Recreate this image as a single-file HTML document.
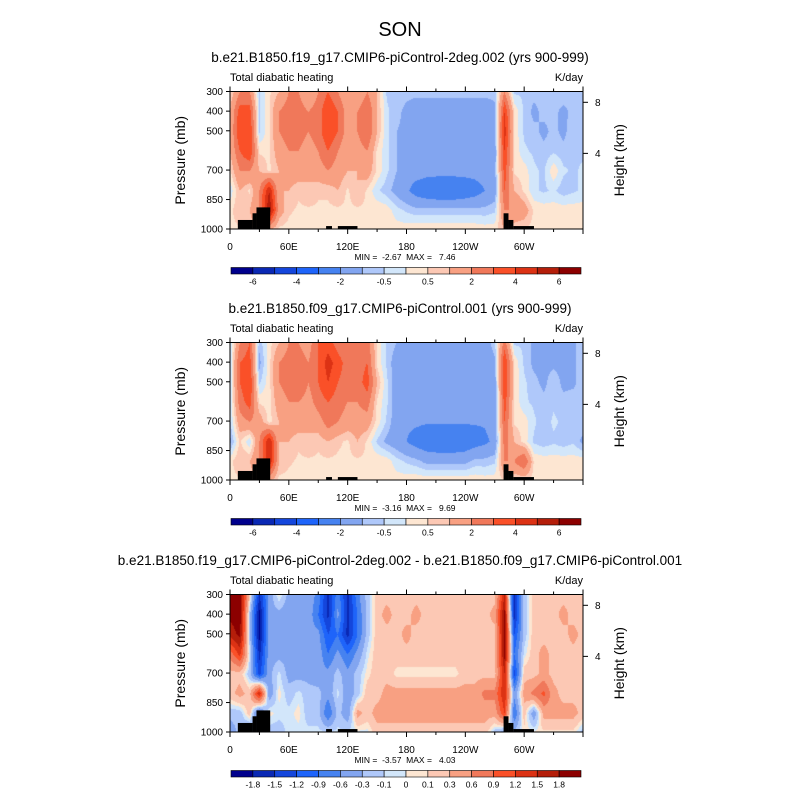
<!DOCTYPE html>
<html><head><meta charset="utf-8"><style>
body{margin:0;background:#fff;width:800px;height:800px;overflow:hidden;font-family:"Liberation Sans",Arial,sans-serif}
svg text{font-family:"Liberation Sans",Arial,sans-serif;fill:#000}
</style></head><body>
<svg id="chart" width="800" height="800" xmlns="http://www.w3.org/2000/svg">
<text x="400" y="36" font-size="20" text-anchor="middle">SON</text>
</svg>
<script>
const lons=[0,10,20,30,40,50,60,70,80,90,100,110,120,130,140,150,160,170,180,190,200,210,220,230,240,250,260,270,280,290,300,310,320,330,340,350,360];
const plevs=[300,400,500,600,700,800,900,1000];
const field1=[
[0.4,2,2,-0.6,0.4,1,2,2,1,2,3,2,1,1,2,1,-0.6,-0.6,-0.8,-0.8,-0.8,-0.8,-0.8,-0.8,-0.8,-0.8,-0.8,-0.8,2,-0.6,-0.6,-0.8,-0.6,-0.8,-0.6,-0.8,-0.6],
[1,3.5,3.5,-0.6,0.4,2,2.5,2.5,2,2.5,4,3,1.5,2,3,1,-0.4,-0.8,-1.2,-1.5,-1.5,-1.5,-1.5,-1.5,-1.5,-1.5,-1.5,-1.2,4,0.4,-0.6,-1.2,-0.8,-0.8,-1.2,-0.8,-0.6],
[1,4,4,-0.6,0.4,2,2.5,2.5,2,2.5,4,3,1.5,2,3,1,-0.4,-1,-1.2,-1.5,-1.5,-1.5,-1.5,-1.5,-1.5,-1.5,-1.5,-1.2,4.5,0.4,-0.6,-0.8,-1.2,-0.8,-1.2,-0.6,-0.6],
[1,3,4,0.4,0.4,1.5,2,2,1.5,2,3,2,1,1.5,2,0.4,-0.4,-1,-1.3,-1.5,-1.5,-1.5,-1.5,-1.5,-1.5,-1.5,-1.5,-1.5,4,0.4,-0.4,-0.6,-0.8,-0.6,-0.8,-0.6,-0.6],
[0.4,2,2,1,0.4,1,1.5,1.5,1,1.5,2,1.5,1,1,1.5,0.4,-0.4,-1,-1.5,-1.5,-1.6,-1.6,-1.6,-1.6,-1.6,-1.6,-1.5,-1.3,3.5,0.4,0.3,-0.4,-0.6,0.4,-0.4,-0.6,-0.4],
[-0.4,1,0.4,2,5,1,1,0.6,1,0.6,0.6,1,0.4,1,0.4,-0.4,-0.8,-1.3,-1.8,-2.5,-2.8,-3,-3,-3,-2.8,-2.5,-2,-1.5,3,1,0.4,-0.4,-0.6,-0.4,-0.8,-0.6,-0.4],
[0.3,1,1,2,6,1.5,0.6,0.4,0.4,0.4,0.4,0.4,0.4,0.4,0.4,0.4,0.3,-0.3,-0.6,-0.8,-0.8,-0.8,-0.8,-0.8,-0.8,-0.8,-0.8,-0.6,2,2,1.5,0.4,0.3,0.3,0.3,0.3,0.3],
[0.3,0.4,0.4,2,1,0.3,0.3,0.3,0.3,0.3,0.3,0.3,0.3,0.3,0.3,0.3,0.3,0.3,0.3,0.4,0.4,0.4,0.4,0.4,0.4,0.4,0.3,0.3,1,0.4,0.4,0.3,0.3,0.3,0.3,0.3,0.3]];
const field2=[
[-0.6,2,3,-0.8,0.3,1,2,2,1.5,3,3.5,2.5,2,2,2.5,0.4,-0.6,-1,-1.5,-1.5,-1.5,-1.5,-1.5,-1.5,-1.5,-1.5,-1.5,-0.6,2.5,-0.6,-0.6,-1.2,-1.2,-1.2,-1.2,-1.2,-0.6],
[-0.6,3,3.5,-1.2,0.3,2,2.5,2.5,2,3,4.5,3.5,2.5,2.5,3,0.4,-0.6,-1.5,-1.8,-1.8,-1.8,-1.8,-1.8,-1.8,-1.8,-1.8,-1.8,-1.2,4,0.4,-0.6,-1.2,-1.2,-1.2,-1.2,-1.2,-0.6],
[-0.6,3,4,-0.6,0.3,2,2.5,3,2,3,4,3,2.5,2.5,3.5,1,-0.4,-1.5,-1.8,-1.8,-1.8,-1.8,-1.8,-1.8,-1.8,-1.8,-1.8,-1.5,4,0.4,-0.4,-0.8,-1.2,-0.6,-1.2,-1.2,-0.6],
[-0.6,2.5,3.5,0.4,0.3,1.5,2,2,1.5,2.5,3,2.5,2,2,2.5,0.4,-0.4,-1.5,-1.8,-1.8,-1.8,-1.8,-1.8,-1.8,-1.8,-1.8,-1.8,-1.8,3.5,0.4,-0.4,-0.6,-0.8,-0.6,-0.8,-0.6,-0.6],
[-0.6,1.5,2,1.5,0.3,1,1.5,1.5,1,1.5,2.5,2,1.5,1.5,1.5,0.3,-0.6,-1.5,-1.8,-1.8,-1.9,-1.9,-1.9,-1.9,-1.9,-1.9,-1.9,-1.5,3,0.4,0.3,-0.4,-0.8,-0.4,-0.6,-0.8,-0.6],
[-1.2,0.6,-0.4,2,5,1,1,0.6,1,0.6,1,0.6,0.4,1,0.4,-0.6,-1.2,-1.5,-2,-2.5,-2.8,-3,-3,-3,-2.8,-2.5,-2.2,-1.8,2.5,1,0.3,-0.6,-0.8,-0.6,-0.8,-0.6,-1.2],
[0.3,1,1,2,5,1,0.6,0.4,0.4,0.4,0.4,0.4,0.4,0.4,0.4,0.4,0.3,-0.3,-0.6,-0.8,-1.2,-1.2,-1.2,-1.2,-1.2,-0.8,-0.8,-0.6,2,2,3,0.4,0.3,0.3,0.3,0.3,0.3],
[0.3,0.4,0.4,1.5,1,0.3,0.3,0.3,0.3,0.3,0.3,0.3,0.3,0.3,0.3,0.3,0.3,0.3,0.3,0.4,0.4,0.4,0.4,0.4,0.4,0.4,0.3,0.3,0.4,0.4,0.4,0.3,0.3,0.3,0.3,0.3,0.3]];
const field3=[
[1.9,2,0.2,-1.5,-0.5,0.05,-0.4,-0.4,-0.4,-0.7,-1.6,-0.7,-1.6,-0.7,-0.2,0.2,0.2,0.2,0.2,0.2,0.2,0.2,0.2,0.2,0.2,0.2,0.2,0.2,1.5,-1.6,-0.2,0.2,0.2,0.2,0.2,0.2,0.2],
[1.9,2,-0.2,-1.9,-0.4,-0.4,-0.5,-0.5,-0.4,-0.9,-1.6,-0.5,-1.6,-0.9,-0.2,0.2,0.4,0.2,0.2,0.4,0.2,0.2,0.2,0.2,0.2,0.2,0.2,0.4,1.9,-1.6,-0.2,0.2,0.2,0.2,0.4,0.2,0.2],
[1.6,1.9,-0.2,-1.9,-0.4,-0.5,-0.5,-0.4,-0.5,-0.5,-1.2,-0.9,-1.6,-0.9,-0.2,0.2,0.2,0.2,0.4,0.2,0.2,0.2,0.2,0.2,0.2,0.2,0.2,0.2,1.9,-1.2,-0.2,0.2,0.2,0.2,0.2,0.4,0.2],
[0.7,1.3,-0.05,-1.6,-0.4,-0.4,-0.4,-0.4,-0.4,-0.4,-0.9,-0.5,-0.9,-0.5,-0.05,0.2,0.2,0.2,0.2,0.2,0.2,0.2,0.2,0.2,0.2,0.2,0.2,0.2,1.9,-0.9,-0.05,0.2,0.4,0.2,0.2,0.2,0.2],
[0.2,0.2,-0.2,-1.3,-0.4,-0.05,-0.4,-0.4,-0.4,-0.5,-0.5,-0.2,-0.5,-0.2,0.05,0.2,0.2,0.05,0.05,0.05,0.05,0.05,0.05,0.05,0.2,0.2,0.2,0.2,1.5,-1.3,0.2,0.2,0.4,0.2,0.2,0.2,0.2],
[0.2,0.4,0.2,1.5,-0.5,0.05,-0.2,-0.05,-0.2,-0.2,-0.5,-0.05,-0.5,-0.2,0.2,0.2,0.4,0.4,0.4,0.4,0.4,0.4,0.4,0.4,0.4,0.4,0.7,0.7,1.5,-0.5,0.4,0.7,1,0.4,0.2,0.2,0.2],
[-0.2,-0.2,0.2,-0.9,0.05,-0.05,-0.05,0.05,-0.2,-0.2,-0.9,-0.2,-0.5,0.4,0.2,0.4,0.4,0.4,0.4,0.4,0.4,0.4,0.4,0.4,0.4,0.4,0.4,0.4,1.2,-0.9,0.2,-0.5,0.4,0.4,0.4,0.4,0.2],
[-0.5,-0.2,-0.5,-0.2,-0.2,-0.2,-0.05,-0.05,-0.05,-0.05,-0.05,-0.05,-0.05,-0.05,-0.05,0.2,0.2,0.2,0.2,0.2,0.2,0.2,0.2,0.2,0.2,0.2,0.2,-0.2,-0.5,-0.2,0.05,0.05,0.05,0.05,0.05,0.05,-0.2]];
const levelsMain=[-6,-5,-4,-3,-2,-1,-0.5,0,0.5,1,2,3,4,5,6];
const levelsDiff=[-1.8,-1.5,-1.2,-0.9,-0.6,-0.3,-0.1,0,0.1,0.3,0.6,0.9,1.2,1.5,1.8];
const labelsMain=["-6","","-4","","-2","","-0.5","","0.5","","2","","4","","6"];
const labelsDiff=["-1.8","-1.5","-1.2","-0.9","-0.6","-0.3","-0.1","0","0.1","0.3","0.6","0.9","1.2","1.5","1.8"];
const colors=["#00008c","#0a28b4","#1446dc","#1e64fa","#4682f0","#82a5f0","#afc8fa","#d2e6fa","#fde6d2","#fcc8b4","#f8a082","#f0785a","#fa5028","#dc3214","#b41e0a","#8c0000"];
const topo=[[8,23,954],[23,27,920],[27,41,890],[98,104,985],[110,130,985],[279,284,920],[284,289,954],[289,310,985]];
const xTicks=[0,60,120,180,240,300];
const xTickLabels=["0","60E","120E","180","120W","60W"];
const pTicks=[300,400,500,700,850,1000];
const hTicks=[8,4];const hTickP=[355,615];
const panels=[
 {title:"b.e21.B1850.f19_g17.CMIP6-piControl-2deg.002 (yrs 900-999)",field:field1,levels:levelsMain,labels:labelsMain,min:"-2.67",max:"7.46",dy:0},
 {title:"b.e21.B1850.f09_g17.CMIP6-piControl.001 (yrs 900-999)",field:field2,levels:levelsMain,labels:labelsMain,min:"-3.16",max:"9.69",dy:251},
 {title:"b.e21.B1850.f19_g17.CMIP6-piControl-2deg.002 - b.e21.B1850.f09_g17.CMIP6-piControl.001",field:field3,levels:levelsDiff,labels:labelsDiff,min:"-3.57",max:"4.03",dy:503}];
const NS="http://www.w3.org/2000/svg";
const svg=document.getElementById('chart');
function mk(tag,attrs,parent){const e=document.createElementNS(NS,tag);for(const k in attrs)e.setAttribute(k,attrs[k]);(parent||svg).appendChild(e);return e;}
const X0=230,X1=583;
function interp(f,lon,p){
 let i=Math.min(Math.floor(lon/10),35);let tx=(lon-lons[i])/10;
 let j=0;while(j<plevs.length-2&&p>plevs[j+1])j++;let ty=(p-plevs[j])/(plevs[j+1]-plevs[j]);ty=Math.max(0,Math.min(1,ty));
 const a=f[j][i],b=f[j][i+1],c=f[j+1][i],d=f[j+1][i+1];
 return (a*(1-tx)+b*tx)*(1-ty)+(c*(1-tx)+d*tx)*ty;}
function colorFor(v,lev){let k=0;while(k<lev.length&&v>=lev[k])k++;return colors[k];}
panels.forEach((P,pi)=>{
 const Y0=91.5+P.dy,Y1=229+P.dy;
 const xS=lon=>X0+(lon/360)*(X1-X0);
 const yS=p=>Y0+(p-300)/700*(Y1-Y0);
 const g=mk('g',{});
 
 
 const st=mk('text',{x:400,y:62+P.dy,'font-size':13.5,'text-anchor':'middle'},g);st.textContent=P.title;
 
 
 const lt=mk('text',{x:230,y:81+P.dy,'font-size':11},g);lt.textContent="Total diabatic heating";
 
 
 const ut=mk('text',{x:583,y:81+P.dy,'font-size':11,'text-anchor':'end'},g);ut.textContent="K/day";
 
 
 const fo=document.createElementNS(NS,'foreignObject');
 fo.setAttribute('x',X0);fo.setAttribute('y',Y0);fo.setAttribute('width',X1-X0);fo.setAttribute('height',Y1-Y0);
 g.appendChild(fo);
 const cv=document.createElement('canvas');
 const W=Math.round(X1-X0),H=Math.round(Y1-Y0);cv.width=W;cv.height=H;cv.style.display='block';
 
 
 fo.appendChild(cv);
 const ctx=cv.getContext('2d');
 for(let px=0;px<W;px++)for(let py=0;py<H;py++){
  const lon=(px+0.5)/W*360,p=300+(py+0.5)/H*700;
  ctx.fillStyle=colorFor(interp(P.field,lon,p),P.levels);ctx.fillRect(px,py,1,1);}
 topo.forEach(t=>{const r=mk('rect',{x:xS(t[0]),y:yS(t[2]),width:xS(t[1])-xS(t[0]),height:Y1-yS(t[2]),fill:'#000'},g);
  
  });
 const fr=mk('rect',{x:X0,y:Y0,width:X1-X0,height:Y1-Y0,fill:'none',stroke:'#000','stroke-width':1},g);
 
 
 for(let l=0;l<=360;l+=30){const x=xS(l),len=(l%60==0)?5:3;
  mk('line',{x1:x,x2:x,y1:Y0,y2:Y0-len,stroke:'#000'},g);mk('line',{x1:x,x2:x,y1:Y1,y2:Y1+len,stroke:'#000'},g);}
 xTicks.forEach((l,k)=>{const t=mk('text',{x:xS(l),y:Y1+21,'font-size':10,'text-anchor':'middle'},g);t.textContent=xTickLabels[k];
  
  });
 pTicks.forEach(p=>{mk('line',{x1:X0-4,x2:X0,y1:yS(p),y2:yS(p),stroke:'#000'},g);
  const t=mk('text',{x:X0-7,y:yS(p)+3.5,'font-size':10,'text-anchor':'end'},g);t.textContent=p;
  
  });
 hTicks.forEach((h,k)=>{const y=yS(hTickP[k]);mk('line',{x1:X1,x2:X1+5,y1:y,y2:y,stroke:'#000'},g);
  const t=mk('text',{x:X1+12,y:y+3.5,'font-size':10},g);t.textContent=h;
  
  });
 const yt=mk('text',{x:0,y:0,'font-size':14,'text-anchor':'middle',transform:`translate(185,${(Y0+Y1)/2}) rotate(-90)`},g);yt.textContent="Pressure (mb)";
 
 
 const ht=mk('text',{x:0,y:0,'font-size':14,'text-anchor':'middle',transform:`translate(624,${(Y0+Y1)/2}) rotate(-90)`},g);ht.textContent="Height (km)";
 
 
 const mm=mk('text',{x:405,y:Y1+31,'font-size':8.5,'text-anchor':'middle',style:'white-space:pre'},g);mm.textContent=`MIN =  ${P.min}  MAX =   ${P.max}`;
 
 
 const cbY=267.5+P.dy,cbX0=231,cbX1=581,bw=(cbX1-cbX0)/colors.length;
 colors.forEach((c,k)=>{const r=mk('rect',{x:cbX0+k*bw,y:cbY,width:bw,height:6.5,fill:c,stroke:'#000','stroke-width':0.6},g);
  
  });
 P.labels.forEach((s,k)=>{if(!s)return;const t=mk('text',{x:cbX0+(k+1)*bw,y:cbY+17,'font-size':8.5,'text-anchor':'middle'},g);t.textContent=s;
  
  });
});
</script>
</body></html>
